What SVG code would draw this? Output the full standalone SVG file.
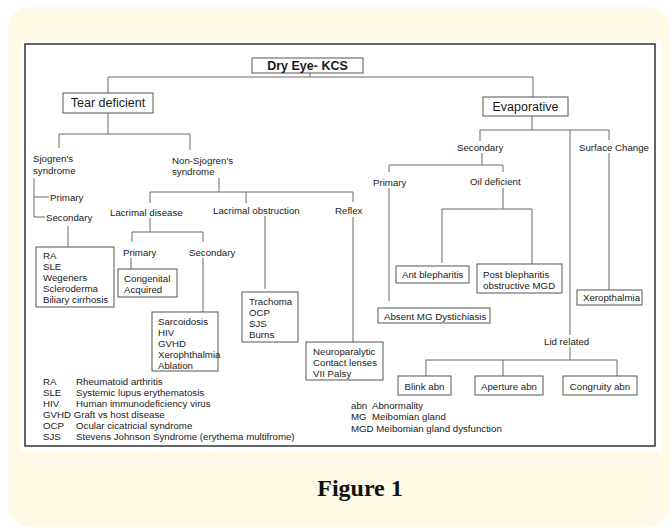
<svg xmlns="http://www.w3.org/2000/svg" width="672" height="529" viewBox="0 0 672 529">
<style>
text{font-family:"Liberation Sans",Arial,sans-serif;font-size:9.7px;fill:#1a1a1a;dominant-baseline:central}
.big{font-size:12.5px}
.bold{font-weight:bold;font-size:12.5px}
.box{fill:#fff;stroke:#555;stroke-width:1}
.c{fill:none;stroke:#6a6a6a;stroke-width:1}
.fig{font-family:"Liberation Serif","Times New Roman",serif;font-weight:bold;font-size:24px;fill:#111;text-anchor:middle}
</style>
<rect x="8" y="7" width="662" height="520" rx="22" fill="#FFF9E6"/>
<rect x="21" y="41" width="641" height="411" fill="#fff"/>
<rect x="25" y="44" width="630" height="402" fill="none" stroke="#333" stroke-width="1.5"/>
<g id="connectors" class="c">
<path d="M310,73V77M108,93V77H533V97"/>
<path d="M108,113V134M59,148V134H190V150"/>
<path d="M34,178V217H45M34,197H49"/>
<path d="M68,226V247"/>
<path d="M219,178V192M150,203V192H353V202M246,192V203"/>
<path d="M150,218V232M132,242V232H203V242"/>
<path d="M131,258V269M203,258V312M265,216V289M353,217V342"/>
<path d="M532,116V130M480,141V130H609V140M570,130V335M609,153V290"/>
<path d="M482,153V165M389,172V165H503V172M389,188V301M503,188V209M442,263V209H532V264"/>
<path d="M570,347V360M426,376V360H617V376M503,360V376"/>
</g>
<g id="dryeye"><rect class="box" x="252" y="58" width="111" height="15"/><text class="bold" x="307.5" y="65.5" text-anchor="middle">Dry Eye- KCS</text></g>
<g id="teardeficient"><rect class="box" x="63" y="93" width="90" height="20"/><text class="big" x="108" y="103" text-anchor="middle">Tear deficient</text></g>
<g id="evaporative"><rect class="box" x="483" y="97" width="85" height="19"/><text class="big" x="525.5" y="106.5" text-anchor="middle">Evaporative</text></g>
<g id="sjogren"><text x="33" y="158.5">Sjogren's</text><text x="33" y="170">syndrome</text></g>
<g id="nonsjogren"><text x="172" y="160.5">Non-Sjogren's</text><text x="172" y="171.5">syndrome</text></g>
<g id="sj-primary"><text x="50" y="197">Primary</text></g>
<g id="sj-secondary"><text x="46" y="217">Secondary</text></g>
<g id="ra-box"><rect class="box" x="36" y="247" width="78" height="60"/>
<text x="43" y="255.5">RA</text><text x="43" y="266.5">SLE</text><text x="43" y="277.5">Wegeners</text><text x="43" y="288.5">Scleroderma</text><text x="43" y="299.5">Biliary cirrhosis</text></g>
<g id="lacrimal-disease"><text x="110" y="212">Lacrimal disease</text></g>
<g id="lacrimal-obstruction"><text x="213" y="210">Lacrimal obstruction</text></g>
<g id="reflex"><text x="335" y="210">Reflex</text></g>
<g id="ld-primary"><text x="123" y="252">Primary</text></g>
<g id="ld-secondary"><text x="189" y="252">Secondary</text></g>
<g id="congenital"><rect class="box" x="118" y="269" width="59" height="28"/><text x="124" y="278">Congenital</text><text x="124" y="289">Acquired</text></g>
<g id="sarcoidosis"><rect class="box" x="152" y="312" width="66" height="59"/>
<text x="158" y="321">Sarcoidosis</text><text x="158" y="332">HIV</text><text x="158" y="343">GVHD</text><text x="158" y="354">Xerophthalmia</text><text x="158" y="365">Ablation</text></g>
<g id="trachoma"><rect class="box" x="242" y="292" width="56" height="50"/>
<text x="249" y="301">Trachoma</text><text x="249" y="312">OCP</text><text x="249" y="323">SJS</text><text x="249" y="334">Burns</text></g>
<g id="neuroparalytic"><rect class="box" x="306" y="342" width="77" height="38"/>
<text x="313" y="351">Neuroparalytic</text><text x="313" y="362">Contact lenses</text><text x="313" y="373">VII Palsy</text></g>
<g id="ev-secondary"><text x="457" y="147">Secondary</text></g>
<g id="surface-change"><text x="579" y="147">Surface Change</text></g>
<g id="ev-primary"><text x="373" y="182">Primary</text></g>
<g id="oil-deficient"><text x="470" y="181">Oil deficient</text></g>
<g id="ant-blepharitis"><rect class="box" x="396" y="266" width="73" height="17"/><text x="402" y="274.5">Ant blepharitis</text></g>
<g id="post-blepharitis"><rect class="box" x="477" y="264" width="85" height="29"/><text x="483" y="274">Post blepharitis</text><text x="483" y="285.5">obstructive MGD</text></g>
<g id="absent-mg"><rect class="box" x="378" y="308" width="112" height="15"/><text x="384" y="316">Absent MG Dystichiasis</text></g>
<g id="xeropthalmia"><rect class="box" x="577" y="290" width="65" height="15"/><text x="583" y="297.5">Xeropthalmia</text></g>
<g id="lid-related"><text x="544" y="341.5">Lid related</text></g>
<g id="blink"><rect class="box" x="398" y="376" width="53" height="19"/><text x="424.5" y="386" text-anchor="middle">Blink abn</text></g>
<g id="aperture"><rect class="box" x="475" y="376" width="68" height="19"/><text x="509" y="386" text-anchor="middle">Aperture abn</text></g>
<g id="congruity"><rect class="box" x="563" y="376" width="74" height="19"/><text x="600" y="386" text-anchor="middle">Congruity abn</text></g>
<g id="legend-left">
<text x="43" y="381">RA</text><text x="76" y="381">Rheumatoid arthritis</text>
<text x="43" y="392.5">SLE</text><text x="76" y="392.5">Systemic lupus erythematosis</text>
<text x="43" y="403.5">HIV</text><text x="76" y="403.5">Human immunodeficiency virus</text>
<text x="43" y="414.5">GVHD Graft vs host disease</text>
<text x="43" y="425">OCP</text><text x="76" y="425">Ocular cicatricial syndrome</text>
<text x="43" y="436">SJS</text><text x="76" y="436">Stevens Johnson Syndrome (erythema multifrome)</text>
</g>
<g id="legend-right">
<text x="351" y="405">abn</text><text x="372" y="405">Abnormality</text>
<text x="351" y="416.5">MG</text><text x="372" y="416.5">Meibomian gland</text>
<text x="351" y="428">MGD Meibomian gland dysfunction</text>
</g>
<text class="fig" x="360" y="488">Figure 1</text>
</svg>
